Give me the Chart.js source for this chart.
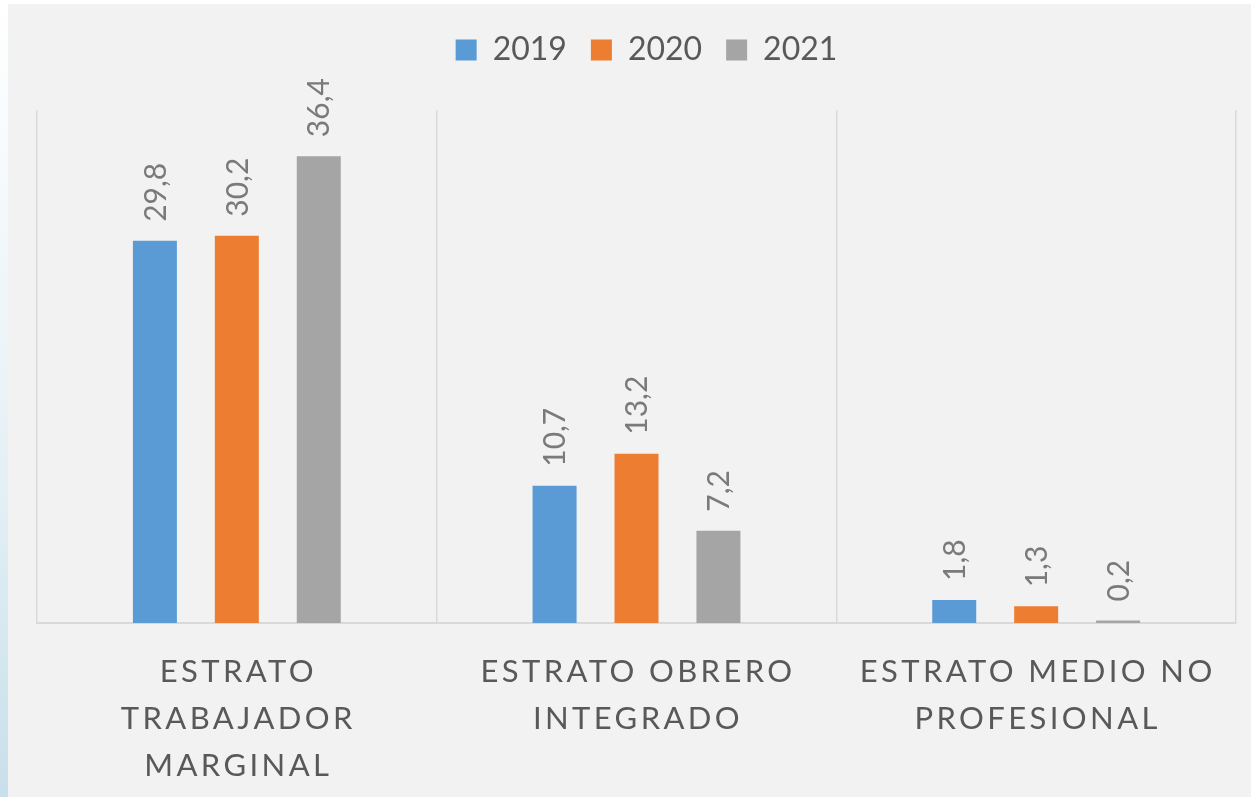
<!DOCTYPE html>
<html>
<head>
<meta charset="utf-8">
<script src="https://cdn.jsdelivr.net/npm/chart.js@4"></script>
<style>
  body { margin: 0; background: #ffffff; width: 1251px; height: 797px; overflow: hidden; position: relative; }
  #strip { position: absolute; left: 0; top: 0; width: 8px; height: 797px; background: linear-gradient(to bottom, #ffffff, #e4f0f6 60%, #c9dfe9); }
  #box { position: absolute; left: 8px; top: 4px; width: 1243px; height: 793px; background: #f2f2f2; }
</style>
</head>
<body>
<div id="strip"></div>
<div id="box"><canvas id="chart" width="1243" height="793"></canvas></div>
<script>
// data
const categories = [
    ['ESTRATO', 'TRABAJADOR', 'MARGINAL'],
    ['ESTRATO OBRERO', 'INTEGRADO'],
    ['ESTRATO MEDIO NO', 'PROFESIONAL']
]
const years = ['2019', '2020', '2021']
const values2019 = [29.8, 10.7, 1.8]
const values2020 = [30.2, 13.2, 1.3]
const values2021 = [36.4, 7.2, 0.2]
const colors = ['#5b9bd5', '#ed7d31', '#a5a5a5']

const fontName = 'Lato, "Open Sans", sans-serif'

function fmt(v){
    return v.toFixed(1).replace('.', ',')
}

// extra space under the legend, and nudge it a bit to the right
const legendGap = {
    id: 'legendGap',
    beforeInit(chart){
        const fit = chart.legend.fit
        chart.legend.fit = function(){
            fit.bind(chart.legend)()
            this.height += 34
        }
    },
    afterLayout(chart){
        chart.legend.left += 10
        chart.legend.right += 10
    }
}

// rotated value labels above the bars
const barLabels = {
    id: 'barLabels',
    afterDatasetsDraw(chart){
        const ctx = chart.ctx
        ctx.save()
        ctx.font = '30px ' + fontName
        ctx.fillStyle = '#7a7a7a'
        ctx.textAlign = 'left'
        ctx.textBaseline = 'middle'
        chart.data.datasets.forEach((ds, i) => {
            chart.getDatasetMeta(i).data.forEach((bar, j) => {
                ctx.save()
                ctx.translate(bar.x + 1, bar.y - 19)
                ctx.rotate(-Math.PI / 2)
                ctx.fillText(fmt(ds.data[j]), 0, 0)
                ctx.restore()
            })
        })
        ctx.restore()
    }
}

// category labels with letter spacing
const catLabels = {
    id: 'catLabels',
    afterDraw(chart){
        const ctx = chart.ctx
        const xs = chart.scales.x
        ctx.save()
        ctx.font = '31px ' + fontName
        ctx.fillStyle = '#595959'
        ctx.textAlign = 'center'
        ctx.textBaseline = 'middle'
        ctx.letterSpacing = '3.4px'
        categories.forEach((lines, i) => {
            const x = xs.getPixelForValue(i)
            lines.forEach((line, k) => {
                ctx.fillText(line, x + 1.5, chart.chartArea.bottom + 49 + k * 47)
            })
        })
        ctx.restore()
    }
}

const ctx = document.getElementById('chart').getContext('2d')
const chart = new Chart(ctx, {
    type: 'bar',
    data: {
        labels: categories,
        datasets: [values2019, values2020, values2021].map((vals, i) => ({
            label: years[i],
            data: vals,
            backgroundColor: colors[i],
            categoryPercentage: 0.615,
            barPercentage: 0.537
        }))
    },
    options: {
        responsive: false,
        animation: false,
        layout: { padding: { left: 29, right: 15, top: 6, bottom: 174 } },
        plugins: {
            legend: {
                position: 'top',
                labels: {
                    font: { family: fontName, size: 32 },
                    color: '#595959',
                    boxWidth: 21,
                    boxHeight: 21,
                    padding: 24
                }
            },
            tooltip: { enabled: false }
        },
        scales: {
            x: {
                grid: { color: '#d9d9d9', lineWidth: 1.5, drawTicks: false, offset: true },
                border: { color: '#d9d9d9', width: 2 },
                ticks: { display: false }
            },
            y: {
                display: false,
                min: 0,
                max: 40
            }
        }
    },
    plugins: [legendGap, barLabels, catLabels]
})
</script>
</body>
</html>
